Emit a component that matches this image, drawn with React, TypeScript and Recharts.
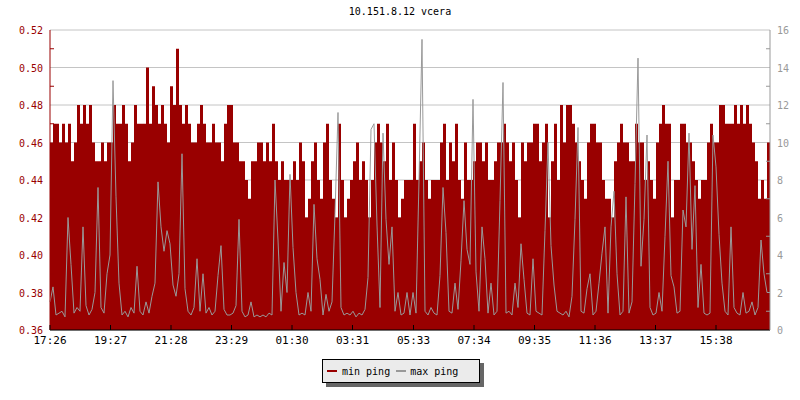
import {
  ComposedChart,
  Area,
  Line,
  XAxis,
  YAxis,
  CartesianGrid,
} from 'recharts';

// one sample every 6 minutes, starting 17:26 (24 h => 240 samples)
const SAMPLE_MIN = 6;
const START = '17:26';

// min ping [ms], left axis — one row per hour
const minPing = [
  0.46, 0.47, 0.47, 0.46, 0.47, 0.46, 0.47, 0.45, 0.46, 0.48,
  0.47, 0.48, 0.47, 0.48, 0.46, 0.45, 0.45, 0.46, 0.45, 0.46,
  0.46, 0.48, 0.47, 0.47, 0.48, 0.47, 0.45, 0.46, 0.48, 0.47,
  0.47, 0.47, 0.50, 0.47, 0.49, 0.48, 0.47, 0.48, 0.47, 0.46,
  0.49, 0.48, 0.51, 0.48, 0.47, 0.48, 0.47, 0.46, 0.46, 0.47,
  0.48, 0.47, 0.46, 0.46, 0.47, 0.46, 0.46, 0.45, 0.47, 0.48,
  0.48, 0.46, 0.46, 0.45, 0.45, 0.44, 0.43, 0.45, 0.45, 0.46,
  0.46, 0.45, 0.46, 0.45, 0.47, 0.45, 0.44, 0.45, 0.44, 0.44,
  0.44, 0.45, 0.44, 0.46, 0.45, 0.42, 0.43, 0.45, 0.46, 0.44,
  0.43, 0.46, 0.47, 0.44, 0.43, 0.42, 0.47, 0.44, 0.42, 0.43,
  0.44, 0.45, 0.46, 0.44, 0.45, 0.44, 0.42, 0.44, 0.46, 0.47,
  0.46, 0.45, 0.47, 0.44, 0.46, 0.44, 0.42, 0.43, 0.44, 0.44,
  0.44, 0.47, 0.44, 0.45, 0.46, 0.44, 0.43, 0.44, 0.44, 0.44,
  0.46, 0.47, 0.44, 0.46, 0.45, 0.47, 0.44, 0.43, 0.46, 0.44,
  0.44, 0.45, 0.46, 0.46, 0.45, 0.46, 0.44, 0.44, 0.45, 0.46,
  0.46, 0.47, 0.46, 0.45, 0.46, 0.44, 0.42, 0.46, 0.45, 0.46,
  0.46, 0.47, 0.47, 0.45, 0.46, 0.47, 0.42, 0.45, 0.47, 0.44,
  0.48, 0.46, 0.48, 0.48, 0.47, 0.46, 0.45, 0.44, 0.43, 0.46,
  0.47, 0.47, 0.46, 0.46, 0.44, 0.43, 0.43, 0.42, 0.45, 0.46,
  0.47, 0.46, 0.46, 0.45, 0.45, 0.47, 0.46, 0.46, 0.44, 0.45,
  0.44, 0.43, 0.46, 0.47, 0.48, 0.47, 0.47, 0.42, 0.44, 0.44,
  0.47, 0.47, 0.46, 0.46, 0.45, 0.44, 0.43, 0.44, 0.44, 0.46,
  0.47, 0.46, 0.46, 0.48, 0.48, 0.47, 0.47, 0.47, 0.48, 0.47,
  0.48, 0.47, 0.48, 0.47, 0.46, 0.45, 0.43, 0.44, 0.43, 0.46,
];

// max ping [ms], right axis — one row per hour
const maxPing = [
  1.5, 2.3, 0.8, 0.9, 1.0, 0.7, 6.0, 3.5, 0.9, 1.2,
  1.0, 5.5, 1.3, 0.8, 1.1, 2.0, 7.6, 1.2, 0.9, 3.0,
  4.0, 13.3, 7.1, 2.5, 0.8, 1.0, 0.7, 1.2, 0.9, 3.4,
  1.0, 0.8, 1.5, 0.9, 1.8, 2.5, 7.9, 5.5, 4.2, 5.3,
  4.6, 2.4, 1.8, 3.0, 9.4, 2.2, 1.0, 0.8, 1.2, 3.8,
  1.0, 3.0, 0.9, 1.2, 0.8, 1.0, 2.9, 4.5, 1.1, 0.8,
  0.8, 0.9, 1.3, 5.9, 1.0, 0.7, 0.8, 1.5, 0.7, 0.8,
  0.7, 0.8, 0.7, 0.9, 0.8, 8.0, 4.8, 1.0, 3.6, 2.0,
  8.3, 4.4, 2.0, 0.8, 0.9, 0.8, 2.0, 1.0, 6.7, 3.8,
  2.7, 0.8, 1.9, 1.0, 1.5, 6.2, 11.6, 1.2, 0.8, 0.9,
  0.8, 1.0, 0.7, 0.9, 0.8, 1.1, 2.8, 10.7, 11.0, 5.6,
  1.2, 10.5, 5.9, 3.5, 5.5, 1.0, 2.0, 0.8, 0.9, 2.0,
  0.8, 2.0, 0.9, 8.0, 15.5, 1.0, 0.8, 1.2, 0.9, 0.8,
  2.9, 7.6, 5.2, 1.0, 0.9, 2.5, 1.1, 3.7, 6.9, 4.3,
  3.5, 12.3, 3.1, 1.0, 5.5, 3.8, 0.9, 2.5, 0.8, 1.0,
  6.9, 13.2, 0.9, 1.0, 0.8, 2.5, 1.2, 4.6, 2.7, 0.9,
  0.8, 3.8, 1.0, 0.9, 0.8, 5.3, 10.0, 4.5, 2.4, 1.0,
  0.9, 0.8, 1.0, 0.7, 1.8, 5.9, 10.8, 1.0, 0.9, 2.2,
  3.0, 0.8, 1.0, 2.5, 4.1, 5.5, 0.9, 5.5, 7.4, 3.0,
  0.8, 1.0, 7.1, 0.9, 1.5, 7.8, 14.5, 3.4, 5.9, 10.4,
  1.2, 0.8, 0.9, 2.0, 1.0, 5.0, 9.0, 2.9, 2.3, 0.9,
  1.0, 6.4, 5.5, 10.5, 4.3, 7.7, 1.2, 3.5, 0.9, 0.8,
  0.9, 10.4, 8.7, 5.1, 2.5, 1.0, 0.8, 5.5, 1.2, 0.9,
  0.8, 2.0, 0.9, 1.0, 1.5, 0.8, 1.2, 4.8, 3.0, 2.0,
];

const xTickLabels = ['17:26', '19:27', '21:28', '23:29', '01:30', '03:31', '05:33', '07:34', '09:35', '11:36', '13:37', '15:38'];
const leftTicks = [0.36, 0.37, 0.38, 0.39, 0.40, 0.41, 0.42, 0.43, 0.44, 0.45, 0.46, 0.47, 0.48, 0.49, 0.50, 0.51, 0.52];
const leftMajor = [0.36, 0.38, 0.40, 0.42, 0.44, 0.46, 0.48, 0.50, 0.52];
const rightTicks = [0, 1, 2, 3, 4, 5, 6, 7, 8, 9, 10, 11, 12, 13, 14, 15, 16];

const RED = '#990000';
const GRAY = '#999999';
const FONT = '"DejaVu Sans Mono", monospace';

const toMin = (s: string) => {
  const [h, m] = s.split(':').map(Number);
  return h * 60 + m;
};
const startMin = toMin(START);
const xTicks = xTickLabels.map((l) => (toMin(l) - startMin + 1440) % 1440);

const data = minPing.map((v, i) => ({ t: i * SAMPLE_MIN, min: v, max: maxPing[i] }));
data.push({ t: 1440, min: minPing[minPing.length - 1], max: maxPing[maxPing.length - 1] });

const LeftTick = ({ x, y, payload }: any) => {
  const h = Math.round(payload.value * 100);
  if (h % 2 !== 0) return <line x1={x + 7} x2={x + 11} y1={y} y2={y} stroke={RED} />;
  return (
    <text x={x} y={y} dy={4} textAnchor="end" fill={RED} fontSize={10} fontFamily={FONT}>
      {payload.value.toFixed(2)}
    </text>
  );
};

const RightTick = ({ x, y, payload }: any) => {
  if (payload.value % 2 !== 0) return <line x1={x - 7} x2={x - 11} y1={y} y2={y} stroke={GRAY} />;
  return (
    <text x={x} y={y} dy={4} textAnchor="start" fill={GRAY} fontSize={10} fontFamily={FONT}>
      {payload.value}
    </text>
  );
};

const BottomTick = ({ x, y, payload }: any) => {
  const idx = xTicks.indexOf(payload.value);
  return (
    <g>
      <line x1={x} x2={x} y1={y - 3} y2={y - 8} stroke="#000" />
      <text x={x} y={y} dy={11} textAnchor="middle" fill="#000" fontSize={11} fontFamily={FONT}>
        {xTickLabels[idx]}
      </text>
    </g>
  );
};

export default function App() {
  return (
    <div style={{ position: 'absolute', left: 0, top: 0, width: 800, height: 400, background: '#fff' }}>
      <div
        style={{
          position: 'absolute', top: 6, left: 0, width: 800, textAlign: 'center',
          fontFamily: FONT, fontSize: 10, color: '#000',
        }}
      >
        10.151.8.12 vcera
      </div>

      <ComposedChart width={800} height={400} data={data} margin={{ top: 30, right: 0, bottom: 50, left: 0 }}>
        <CartesianGrid yAxisId="left" horizontalValues={leftMajor} vertical={false} stroke="#c4c4c4" />
        <Area
          yAxisId="left"
          type="stepAfter"
          dataKey="min"
          baseValue={0.36}
          fill={RED}
          fillOpacity={1}
          stroke="none"
          isAnimationActive={false}
        />
        <Line
          yAxisId="right"
          type="linear"
          dataKey="max"
          stroke={GRAY}
          strokeWidth={1}
          dot={false}
          isAnimationActive={false}
        />
        <XAxis
          dataKey="t"
          type="number"
          domain={[0, 1440]}
          ticks={xTicks}
          interval={0}
          height={20}
          tickSize={0}
          tickMargin={3}
          tick={<BottomTick />}
          axisLine={{ stroke: '#000' }}
        />
        <YAxis
          yAxisId="left"
          domain={[0.36, 0.52]}
          ticks={leftTicks}
          interval={0}
          width={50}
          tickSize={0}
          tickMargin={7}
          tick={<LeftTick />}
          axisLine={{ stroke: RED }}
          allowDataOverflow
        />
        <YAxis
          yAxisId="right"
          orientation="right"
          domain={[0, 16]}
          ticks={rightTicks}
          interval={0}
          width={30}
          tickSize={0}
          tickMargin={7}
          tick={<RightTick />}
          axisLine={{ stroke: GRAY }}
          allowDataOverflow
        />
      </ComposedChart>

      <div
        style={{
          position: 'absolute', left: 322, top: 359, width: 152, height: 22,
          background: '#ebebeb', border: '1px solid #000', boxShadow: '4px 4px 0 #666',
          fontFamily: FONT, fontSize: 10, display: 'flex', alignItems: 'center',
          paddingLeft: 4, boxSizing: 'content-box',
        }}
      >
        <span style={{ display: 'inline-block', width: 10, height: 2, background: RED, marginRight: 5 }} />
        <span style={{ marginRight: 6 }}>min ping</span>
        <span style={{ display: 'inline-block', width: 10, height: 2, background: GRAY, marginRight: 4 }} />
        <span>max ping</span>
      </div>
    </div>
  );
}
